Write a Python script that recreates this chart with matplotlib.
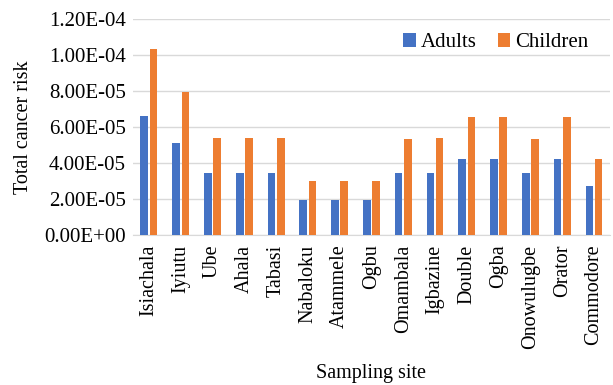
import numpy as np
import matplotlib.pyplot as plt

plt.rcParams['font.family'] = ['Liberation Serif', 'DejaVu Serif']

sites = ["Isiachala", "Iyiutu", "Ube", "Ahala", "Tabasi", "Nabaloku", "Atammele",
         "Ogbu", "Omambala", "Igbazine", "Double", "Ogba", "Onowulugbe", "Orator",
         "Commodore"]
adults = [6.6e-05, 5.1e-05, 3.45e-05, 3.45e-05, 3.45e-05, 1.95e-05, 1.95e-05,
          1.95e-05, 3.45e-05, 3.45e-05, 4.2e-05, 4.2e-05, 3.45e-05, 4.2e-05, 2.7e-05]
children = [1.03e-04, 7.95e-05, 5.4e-05, 5.4e-05, 5.4e-05, 3.0e-05, 3.0e-05,
            3.0e-05, 5.35e-05, 5.4e-05, 6.55e-05, 6.55e-05, 5.35e-05, 6.55e-05, 4.2e-05]
yticks = [0, 2e-05, 4e-05, 6e-05, 8e-05, 1e-04, 1.2e-04]

fig = plt.figure(figsize=(6.13, 3.85), dpi=100)
ax = fig.add_axes([0.217, 0.39, 0.778, 0.561])

x = np.arange(len(sites))
w = 0.24
ax.bar(x - w / 2 - 0.025, adults, w, color="#4472C4", label="Adults", zorder=3)
ax.bar(x + w / 2 + 0.025, children, w, color="#ED7D31", label="Children", zorder=3)

ax.set_xlim(-0.5, len(sites) - 0.5)
ax.set_ylim(0, 1.2e-04)
ax.set_yticks(yticks)
ax.set_yticklabels([f"{v:.2E}" for v in yticks], fontsize=15)
ax.set_xticks(x)
ax.set_xticklabels(sites, rotation=90, fontsize=14.5)
ax.tick_params(axis="y", length=0, pad=5)
ax.tick_params(axis="x", length=0, pad=7)
ax.grid(axis="y", color="#D9D9D9", linewidth=1, zorder=0)
for s in ["top", "right", "left"]:
    ax.spines[s].set_visible(False)
ax.spines["bottom"].set_color("#D9D9D9")

ax.set_ylabel("Total cancer risk", fontsize=14.5, labelpad=8)
ax.set_xlabel("Sampling site", fontsize=14.5, labelpad=11)

ax.legend(loc="upper right", bbox_to_anchor=(0.995, 1.02), ncol=2, frameon=False,
          fontsize=15, handlelength=0.6, handleheight=0.6, handletextpad=0.25,
          columnspacing=1.0)

fig.savefig("out.png", dpi=100)
